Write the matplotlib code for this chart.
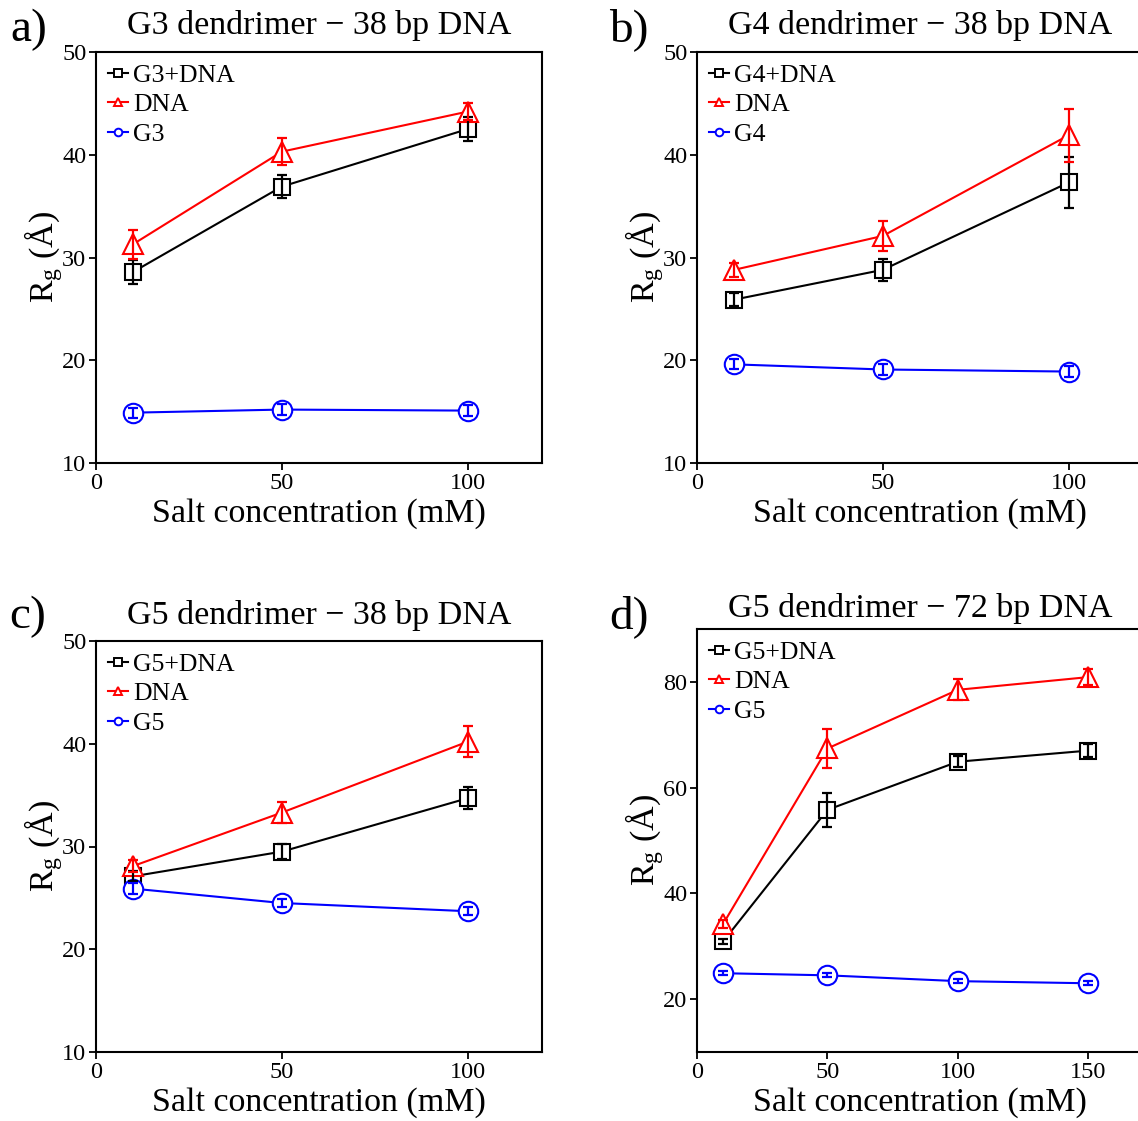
import matplotlib.pyplot as plt

plt.rcParams["font.family"] = ["Liberation Serif", "DejaVu Serif"]
plt.rcParams["mathtext.fontset"] = "custom"
plt.rcParams["mathtext.rm"] = "Liberation Serif"
plt.rcParams["mathtext.it"] = "Liberation Serif:italic"

# salt concentration (mM)
salt_38 = [10, 50, 100]
salt_72 = [10, 50, 100, 150]

# a) G3 dendrimer - 38 bp DNA, Rg in Angstrom
g3_dna = [28.6, 36.9, 42.5]
g3_dna_err = [1.2, 1.1, 1.2]
g3_free_dna = [31.3, 40.3, 44.2]
g3_free_dna_err = [1.4, 1.3, 0.8]
g3_alone = [14.9, 15.2, 15.1]
g3_alone_err = [0.5, 0.5, 0.5]

# b) G4 dendrimer - 38 bp DNA
g4_dna = [25.9, 28.8, 37.3]
g4_dna_err = [0.6, 1.1, 2.5]
g4_free_dna = [28.8, 32.1, 41.9]
g4_free_dna_err = [0.7, 1.5, 2.6]
g4_alone = [19.6, 19.1, 18.9]
g4_alone_err = [0.5, 0.5, 0.5]

# c) G5 dendrimer - 38 bp DNA
g5_dna = [27.1, 29.5, 34.7]
g5_dna_err = [0.5, 0.75, 1.05]
g5_free_dna = [28.1, 33.3, 40.2]
g5_free_dna_err = [0.6, 1.05, 1.5]
g5_alone = [25.9, 24.5, 23.7]
g5_alone_err = [0.5, 0.4, 0.4]

# d) G5 dendrimer - 72 bp DNA
g5_72_dna = [30.9, 55.8, 64.9, 67.0]
g5_72_dna_err = [0.5, 3.2, 1.0, 1.3]
g5_72_free_dna = [34.2, 67.4, 78.5, 80.9]
g5_72_free_dna_err = [0.8, 3.7, 2.0, 1.5]
g5_72_alone = [24.9, 24.5, 23.4, 23.0]
g5_72_alone_err = [0.4, 0.4, 0.4, 0.4]

W, H = 1138, 1121


def px_box(left, top, right, bottom):
    return [left / W, 1 - bottom / H, (right - left) / W, (bottom - top) / H]


def draw_series(ax, x, y, err, color, marker, ms, label):
    ax.plot(x, y, color=color, lw=1.5, zorder=2)
    ax.plot(x, y, ls="none", marker=marker, ms=ms, mfc="white", mec=color,
            mew=1.5, zorder=3)
    ax.errorbar(x, y, yerr=err, fmt="none", ecolor=color, elinewidth=1.6,
                capsize=3.5, capthick=1.6, zorder=4)
    # small symbol for the legend
    ax.plot([], [], color=color, lw=1.5, marker=marker, ms=5.5, mfc="white",
            mec=color, mew=1.4, label=label)


def style_axes(ax, title, pad):
    ax.set_title(title, fontsize=24.5, pad=pad)
    ax.set_xlabel("Salt concentration (mM)", fontsize=24.5, labelpad=3.5)
    ax.set_ylabel(r"R$_\mathrm{g}$ (Å)", fontsize=24.5, labelpad=-2)
    ax.tick_params(direction="out", length=5, width=1.3, labelsize=17.5,
                   top=False, right=False, pad=2)
    for sp in ax.spines.values():
        sp.set_linewidth(1.5)
    ax.legend(loc="upper left", frameon=False, fontsize=18.5, handlelength=0.8,
              handletextpad=0.2, labelspacing=0.26, borderaxespad=0.2,
              borderpad=0.25)


fig = plt.figure(figsize=(W / 100, H / 100), dpi=100)

panels = [
    (px_box(96, 52, 542, 463), salt_38,
     [(g3_dna, g3_dna_err, "G3+DNA"), (g3_free_dna, g3_free_dna_err, "DNA"),
      (g3_alone, g3_alone_err, "G3")],
     "G3 dendrimer \u2212 38 bp DNA", 13, (0, 120), (10, 50), [10, 20, 30, 40, 50]),
    (px_box(697, 52, 1143, 463), salt_38,
     [(g4_dna, g4_dna_err, "G4+DNA"), (g4_free_dna, g4_free_dna_err, "DNA"),
      (g4_alone, g4_alone_err, "G4")],
     "G4 dendrimer \u2212 38 bp DNA", 13, (0, 120), (10, 50), [10, 20, 30, 40, 50]),
    (px_box(96, 641, 542, 1052), salt_38,
     [(g5_dna, g5_dna_err, "G5+DNA"), (g5_free_dna, g5_free_dna_err, "DNA"),
      (g5_alone, g5_alone_err, "G5")],
     "G5 dendrimer \u2212 38 bp DNA", 12.5, (0, 120), (10, 50), [10, 20, 30, 40, 50]),
    (px_box(697, 629, 1143, 1052), salt_72,
     [(g5_72_dna, g5_72_dna_err, "G5+DNA"),
      (g5_72_free_dna, g5_72_free_dna_err, "DNA"),
      (g5_72_alone, g5_72_alone_err, "G5")],
     "G5 dendrimer \u2212 72 bp DNA", 8.5, (0, 171), (10, 90), [20, 40, 60, 80]),
]

colors = ["black", "red", "blue"]
markers = [("s", 11.5), ("^", 14), ("o", 14)]
letters = ["a)", "b)", "c)", "d)"]
letter_pos = [(10, 41), (609, 41), (9, 628), (609, 628)]

for (box, x, series, title, pad, xlim, ylim, yticks), letter, lpos in zip(
        panels, letters, letter_pos):
    ax = fig.add_axes(box)
    for (y, err, label), color, (mk, ms) in zip(series, colors, markers):
        draw_series(ax, x, y, err, color, mk, ms, label)
    ax.set_xlim(*xlim)
    ax.set_ylim(*ylim)
    ax.set_yticks(yticks)
    ax.set_xticks([0, 50, 100] if xlim[1] < 150 else [0, 50, 100, 150])
    style_axes(ax, title, pad)
    fig.text(lpos[0] / W, 1 - lpos[1] / H, letter, fontsize=34, va="baseline")

fig.savefig("out.png", dpi=100)
